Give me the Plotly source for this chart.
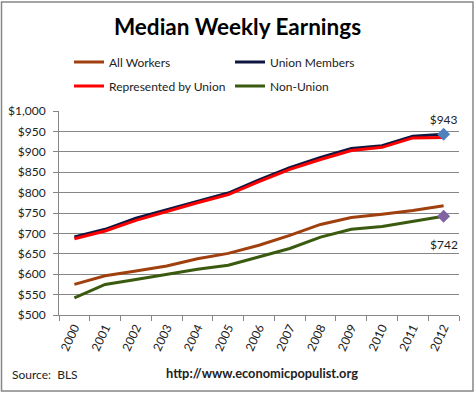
import plotly.graph_objects as go

years = [str(y) for y in range(2000, 2013)]
all_workers = [575, 596, 608, 620, 638, 651, 671, 695, 722, 739, 747, 756, 768]
union_members = [691, 710, 737, 758, 779, 799, 831, 861, 886, 908, 915, 938, 943]
represented = [687, 706, 732, 754, 775, 795, 827, 857, 881, 903, 911, 934, 935]
non_union = [542, 575, 587, 599, 612, 622, 642, 663, 691, 710, 717, 729, 742]
y_ticks = [500, 550, 600, 650, 700, 750, 800, 850, 900, 950, 1000]
y_labels = ["$500", "$550", "$600", "$650", "$700", "$750", "$800", "$850", "$900", "$950", "$1,000"]

FONT = "Lato"
TXT = "#222222"
fig = go.Figure()
fig.add_trace(go.Scatter(x=years, y=all_workers, name="All Workers", mode="lines",
                         line=dict(color="#A0400E", width=3), legend="legend"))
fig.add_trace(go.Scatter(x=years, y=union_members, name="Union Members", mode="lines",
                         line=dict(color="#0F1740", width=3), legend="legend"))
fig.add_trace(go.Scatter(x=years, y=represented, name="Represented by Union", mode="lines",
                         line=dict(color="#FF0000", width=3), legend="legend2"))
fig.add_trace(go.Scatter(x=years, y=non_union, name="Non-Union", mode="lines",
                         line=dict(color="#3A5A10", width=3), legend="legend2"))
# end-point markers with labels
fig.add_trace(go.Scatter(x=[years[-1]], y=[union_members[-1]], mode="markers+text",
                         marker=dict(symbol="diamond", size=10, color="#4F81BD"),
                         text=[f"${union_members[-1]}"], textposition="top center",
                         textfont=dict(family=FONT, size=12, color=TXT),
                         showlegend=False, cliponaxis=False))
fig.add_trace(go.Scatter(x=[years[-1]], y=[non_union[-1]], mode="markers",
                         marker=dict(symbol="diamond", size=10, color="#8064A2"),
                         showlegend=False, cliponaxis=False))
fig.add_annotation(x=len(years) - 1, y=non_union[-1], text=f"${non_union[-1]}", showarrow=False,
                   yshift=-28, font=dict(family=FONT, size=12, color=TXT))

leg_common = dict(orientation="h", xref="paper", xanchor="left", yanchor="middle",
                  entrywidth=116, entrywidthmode="pixels",
                  font=dict(family=FONT, size=12, color=TXT),
                  itemwidth=30, bgcolor="rgba(0,0,0,0)")
fig.update_layout(
    width=475, height=394,
    margin=dict(l=59, r=16, t=111, b=79, autoexpand=False),
    paper_bgcolor="white", plot_bgcolor="white",
    title=dict(text="<b>Median Weekly Earnings</b>", x=0.5, xanchor="center",
               yref="container", y=1 - 27 / 394, yanchor="middle",
               font=dict(family=FONT, size=22.5, color="#000000")),
    showlegend=True,
    legend=dict(x=(69 - 59) / 400, y=1 + (111 - 62) / 204, **leg_common),
    legend2=dict(x=(69 - 59) / 400, y=1 + (111 - 86) / 204, **leg_common),
    xaxis=dict(type="category", range=[-0.5, len(years) - 0.5], showgrid=False,
               showline=True, linecolor="#868686", automargin=False,
               ticks="outside", tickson="boundaries", ticklen=5, tickcolor="#868686",
               tickangle=-65, tickfont=dict(family=FONT, size=12, color=TXT)),
    yaxis=dict(range=[500, 1000], tickvals=y_ticks, ticktext=y_labels, automargin=False,
               showgrid=True, gridcolor="#868686", gridwidth=1,
               showline=True, linecolor="#868686", ticks="outside", ticklen=5,
               tickcolor="#868686", zeroline=False, ticklabelstandoff=5,
               tickfont=dict(family=FONT, size=12, color=TXT)),
    shapes=[dict(type="rect", xref="paper", yref="paper", x0=-57.5 / 400, x1=1 + 14 / 400,
                 y0=-76 / 204, y1=1 + 109 / 204, line=dict(color="#868686", width=1.5))],
)
fig.add_annotation(xref="paper", yref="paper", x=-49 / 400, y=-59 / 204, xanchor="left",
                   yanchor="middle", text="Source:  BLS", showarrow=False,
                   font=dict(family=FONT, size=12, color=TXT))
fig.add_annotation(xref="paper", yref="paper", x=(262 - 59) / 400, y=-58 / 204,
                   xanchor="center", yanchor="middle",
                   text="<b>http://www.economicpopulist.org</b>", showarrow=False,
                   font=dict(family=FONT, size=12.8, color=TXT))
fig.write_html("out.html", config={"displayModeBar": False},
               post_script="document.body.style.margin='0px';")
